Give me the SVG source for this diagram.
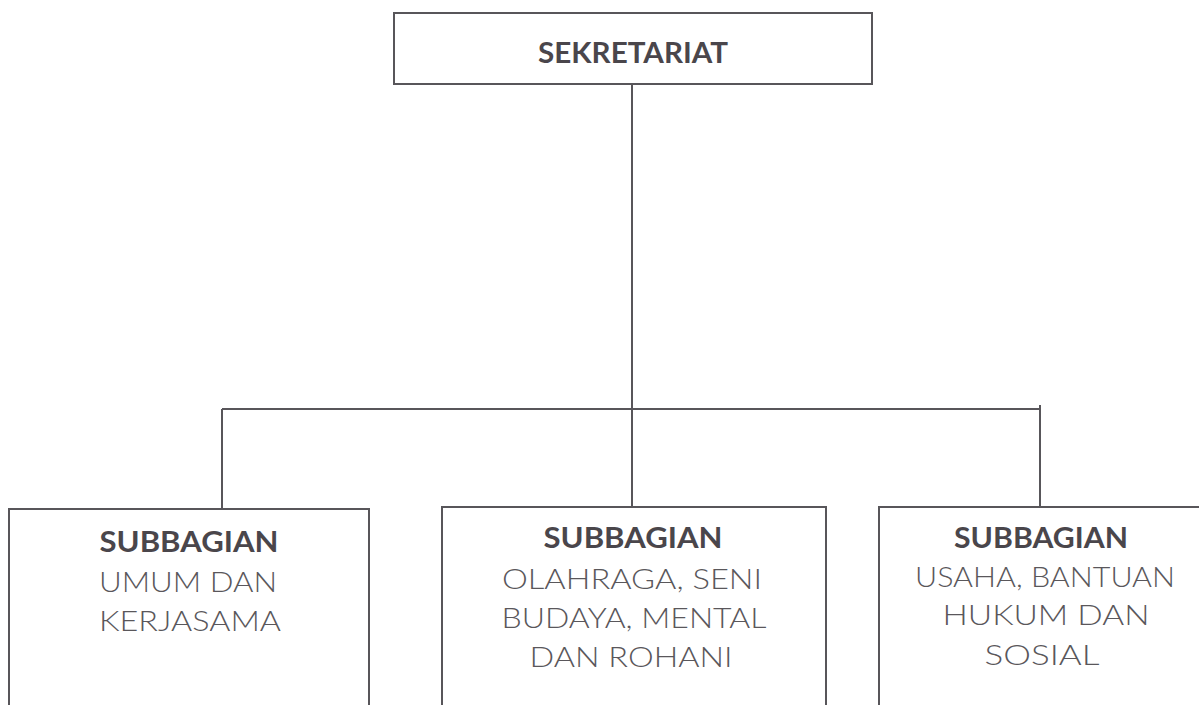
<svg xmlns="http://www.w3.org/2000/svg" width="1199" height="705" viewBox="0 0 1199 705">
<style>
.box{fill:none;stroke:#58565a;stroke-width:2}
.con{fill:none;stroke:#58565a;stroke-width:2}
.b{font-family:Lato,"Open Sans","Liberation Sans",sans-serif;font-weight:700;font-size:28px;fill:#4a464b}
.l{font-family:Lato,"Open Sans","Liberation Sans",sans-serif;font-weight:300;font-size:28px;fill:#5a575b}
</style>
<rect width="1199" height="705" fill="#ffffff"/>
<g id="connectors">
<path class="con" d="M632 84 V507"/>
<path class="con" d="M222 409 H1040"/>
<path class="con" d="M222 409 V509"/>
<path class="con" d="M1040 405 V507"/>
</g>
<g id="sekretariat">
<rect class="box" x="394" y="13" width="478" height="71"/>
<text class="b" x="633" y="63" text-anchor="middle" textLength="190" lengthAdjust="spacingAndGlyphs">SEKRETARIAT</text>
</g>
<g id="subbagian-umum">
<rect class="box" x="9" y="509" width="360" height="220"/>
<text class="b" x="189" y="552" text-anchor="middle" textLength="179" lengthAdjust="spacingAndGlyphs">SUBBAGIAN</text>
<text class="l" x="188" y="592" text-anchor="middle" textLength="178" lengthAdjust="spacingAndGlyphs">UMUM DAN</text>
<text class="l" x="190" y="631" text-anchor="middle" textLength="182" lengthAdjust="spacingAndGlyphs">KERJASAMA</text>
</g>
<g id="subbagian-olahraga">
<rect class="box" x="442" y="507" width="384" height="220"/>
<text class="b" x="633" y="548" text-anchor="middle" textLength="179" lengthAdjust="spacingAndGlyphs">SUBBAGIAN</text>
<text class="l" x="632" y="589" text-anchor="middle" textLength="260" lengthAdjust="spacingAndGlyphs">OLAHRAGA, SENI</text>
<text class="l" x="634" y="628" text-anchor="middle" textLength="265" lengthAdjust="spacingAndGlyphs">BUDAYA, MENTAL</text>
<text class="l" x="631" y="667" text-anchor="middle" textLength="203" lengthAdjust="spacingAndGlyphs">DAN ROHANI</text>
</g>
<g id="subbagian-usaha">
<rect class="box" x="879" y="507" width="340" height="220"/>
<text class="b" x="1041" y="548" text-anchor="middle" textLength="174" lengthAdjust="spacingAndGlyphs">SUBBAGIAN</text>
<text class="l" x="1045" y="587" text-anchor="middle" textLength="260" lengthAdjust="spacingAndGlyphs">USAHA, BANTUAN</text>
<text class="l" x="1046" y="625" text-anchor="middle" textLength="207" lengthAdjust="spacingAndGlyphs">HUKUM DAN</text>
<text class="l" x="1042" y="665" text-anchor="middle" textLength="115" lengthAdjust="spacingAndGlyphs">SOSIAL</text>
</g>
</svg>
